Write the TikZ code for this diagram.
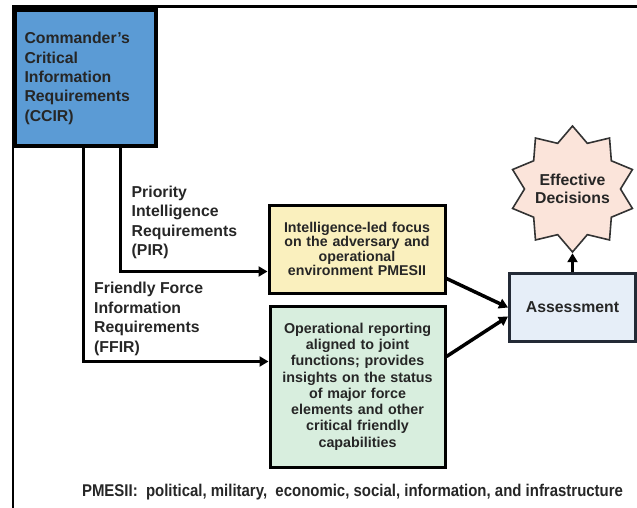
\documentclass[tikz,border=0pt]{standalone}
\usepackage{fontspec}
\setmainfont{Liberation Sans}
\newfontfamily\notefont[FakeStretch=0.88]{Liberation Sans}
\usetikzlibrary{arrows.meta,shapes.geometric}
\definecolor{ccirblue}{HTML}{5B9BD5}
\definecolor{pirfill}{HTML}{FAF0BE}
\definecolor{ffirfill}{HTML}{D8EEDE}
\definecolor{assessfill}{HTML}{E6EEF8}
\definecolor{assessline}{HTML}{232A36}
\definecolor{starfill}{HTML}{FBE4DA}
\newcommand{\zw}[1]{\makebox[0pt]{#1}}
\begin{document}
\begin{tikzpicture}[x=1pt,y=-1pt,
  box/.style={draw=black, rectangle, inner sep=2pt, align=center},
  conn/.style={line width=3.5pt, line join=miter, -{Triangle[length=9pt,width=10pt]}},
  lbl/.style={inner sep=0pt, align=left, anchor=west,
              font=\bfseries\fontsize{15.8}{19.4}\selectfont}]
\useasboundingbox (0,0) rectangle (637,508);
% outer frame: top and left rules
\draw[line width=3pt] (12,7) -- (637,7);
\draw[line width=2pt] (13,7) -- (13,508);

% source block
\node[box, fill=ccirblue, line width=4pt, minimum width=141pt, minimum height=136pt,
      text width=121pt, align=left, inner sep=0pt,
      font=\bfseries\fontsize{15.8}{19.3}\selectfont, text=black!85]
  (ccir) at (85,78.5) {Commander's\\Critical\\Information\\Requirements\\(CCIR)};

% requirement streams
\node[box, fill=pirfill, line width=3pt, minimum width=176pt, minimum height=88pt,
      text width=168pt, font=\bfseries\fontsize{14.2}{14.5}\selectfont, text=black!85]
  (intel) at (357,249) {Intelligence-led focus\\on the adversary and\\operational\\environment PMESII};
\node[box, fill=ffirfill, line width=3pt, minimum width=175pt, minimum height=161pt,
      text width=168pt, font=\bfseries\fontsize{14.3}{16.3}\selectfont, text=black!85]
  (ops) at (357.5,386.5) {Operational reporting\\aligned to joint\\functions; provides\\insights on the status\\of major force\\elements and other\\critical friendly\\capabilities};

% assessment and outcome
\node[box, fill=assessfill, draw=assessline, line width=3pt, minimum width=126pt,
      minimum height=68pt, font=\bfseries\fontsize{15.8}{18}\selectfont, text=black!85]
  (assess) at (572.5,307.5) {Assessment};
% star sized by its own geometry; zero-width lines keep the text from enlarging it
\node[star, star points=10, star point height=15pt, minimum size=126pt, inner sep=0pt,
      draw=black!80, line width=1.6pt, fill=starfill, align=center,
      font=\bfseries\fontsize{15.8}{18}\selectfont, text=black!85]
  (decide) at (572.5,189) {\zw{Effective}\\\zw{Decisions}};

% stream labels
\node[lbl, text=black!85] (pirlbl) at (131.5,222.5) {Priority\\Intelligence\\Requirements\\(PIR)};
\node[lbl, text=black!85] (ffirlbl) at (94,319) {Friendly Force\\Information\\Requirements\\(FFIR)};

% connectors
\draw[conn] ([xshift=108pt]ccir.south west) |- ([yshift=23pt]intel.south west);
\draw[conn] ([xshift=71pt]ccir.south west) |- ([yshift=-57pt]ops.north west);
\draw[conn] ([yshift=16pt]intel.south east) -- (assess.west);
\draw[conn] ([yshift=-52pt]ops.north east) -- ([yshift=-9pt]assess.west);
\draw[conn] (assess.north) -- (decide.south);

% footnote
\node[inner sep=0pt, font=\notefont\bfseries\fontsize{17}{20}\selectfont, text=black!85]
  (note) at (352.5,492) {PMESII:\ \ political, military,\ \ economic, social, information,\ and infrastructure};
\end{tikzpicture}
\end{document}
